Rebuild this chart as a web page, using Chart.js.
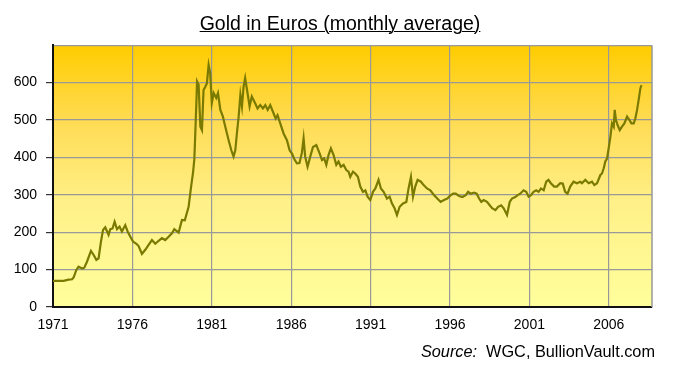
<!DOCTYPE html>
<html>
<head>
<meta charset="utf-8">
<script src="https://cdn.jsdelivr.net/npm/chart.js@4.4.1/dist/chart.umd.min.js"></script>
<style>
  body { margin: 0; background: #fff; }
  #wrap { position: relative; width: 680px; height: 375px; }
  #title {
    position: absolute; left: 0; top: 12px; width: 680px; text-align: center;
    font-family: 'Liberation Sans', Arial, sans-serif; font-size: 19.5px; color: #000;
    text-decoration: underline; text-decoration-thickness: 1px; line-height: 23px;
  }
  #source {
    position: absolute; right: 25px; top: 342px;
    font-family: 'Liberation Sans', Arial, sans-serif; font-size: 16.3px; color: #000;
    white-space: pre;
  }
</style>
</head>
<body>
<div id="wrap">
  <canvas id="gold-chart" width="680" height="375"></canvas>
  <div id="title">Gold in Euros (monthly average)</div>
  <div id="source"><i>Source:</i>  WGC, BullionVault.com</div>
</div>
<script>
// decimal year of each reading
const years = [
  1971.00, 1971.35, 1971.67, 1971.98, 1972.20, 1972.30, 1972.47, 1972.61, 1972.83, 1972.97,
  1973.14, 1973.39, 1973.56, 1973.73, 1973.87, 1974.02, 1974.15, 1974.29, 1974.50, 1974.61,
  1974.75, 1974.88, 1975.03, 1975.19, 1975.34, 1975.55, 1975.70, 1975.87, 1976.04, 1976.25,
  1976.39, 1976.60, 1976.81, 1977.02, 1977.23, 1977.44, 1977.65, 1977.86, 1978.07, 1978.28,
  1978.49, 1978.64, 1978.91, 1979.12, 1979.30, 1979.54, 1979.69, 1979.82, 1979.90, 1979.96,
  1980.04, 1980.07, 1980.17, 1980.28, 1980.38, 1980.48, 1980.59, 1980.69, 1980.80, 1980.90,
  1981.00, 1981.12, 1981.28, 1981.39, 1981.54, 1981.70, 1981.85, 1982.06, 1982.23, 1982.37,
  1982.48, 1982.58, 1982.69, 1982.80, 1982.90, 1983.00, 1983.10, 1983.25, 1983.38, 1983.52,
  1983.73, 1983.88, 1984.05, 1984.22, 1984.37, 1984.52, 1984.68, 1984.85, 1985.02, 1985.14,
  1985.31, 1985.52, 1985.73, 1985.90, 1986.05, 1986.20, 1986.36, 1986.52, 1986.67, 1986.78,
  1986.88, 1987.03, 1987.20, 1987.37, 1987.58, 1987.79, 1987.94, 1988.08, 1988.21, 1988.35,
  1988.50, 1988.67, 1988.84, 1988.98, 1989.13, 1989.30, 1989.47, 1989.61, 1989.72, 1989.89,
  1990.03, 1990.20, 1990.35, 1990.52, 1990.67, 1990.81, 1990.98, 1991.15, 1991.30, 1991.50,
  1991.65, 1991.82, 1992.03, 1992.20, 1992.34, 1992.51, 1992.66, 1992.83, 1993.04, 1993.25,
  1993.39, 1993.54, 1993.67, 1993.81, 1993.96, 1994.17, 1994.34, 1994.55, 1994.76, 1995.00,
  1995.20, 1995.41, 1995.62, 1995.83, 1996.04, 1996.20, 1996.36, 1996.57, 1996.78, 1996.99,
  1997.14, 1997.30, 1997.51, 1997.68, 1997.83, 1997.97, 1998.12, 1998.33, 1998.50, 1998.65,
  1998.86, 1999.03, 1999.22, 1999.38, 1999.59, 1999.76, 1999.90, 2000.11, 2000.26, 2000.42,
  2000.63, 2000.80, 2000.95, 2001.10, 2001.26, 2001.43, 2001.58, 2001.73, 2001.90, 2002.06,
  2002.20, 2002.35, 2002.56, 2002.73, 2002.94, 2003.10, 2003.25, 2003.40, 2003.57, 2003.78,
  2003.99, 2004.20, 2004.31, 2004.52, 2004.73, 2004.94, 2005.09, 2005.26, 2005.47, 2005.57,
  2005.68, 2005.78, 2005.89, 2005.99, 2006.10, 2006.20, 2006.31, 2006.37, 2006.45, 2006.56,
  2006.69, 2006.83, 2006.98, 2007.15, 2007.30, 2007.42, 2007.57, 2007.67, 2007.78, 2007.88,
  2007.99, 2008.06
];

// euros per ounce, monthly average
const prices = [
  70, 70, 70, 73, 74, 79, 99, 108, 103, 105,
  121, 150, 139, 126, 130, 175, 206, 213, 193, 208,
  210, 228, 208, 215, 202, 219, 202, 188, 175, 169,
  163, 142, 153, 166, 179, 169, 177, 184, 179, 188,
  197, 208, 199, 233, 232, 268, 320, 360, 395, 464,
  560, 603, 594, 482, 473, 580, 589, 598, 647, 625,
  545, 572, 559, 572, 527, 509, 482, 446, 419, 402,
  419, 464, 509, 567, 536, 589, 612, 572, 536, 563,
  545, 531, 540, 531, 540, 527, 540, 522, 504, 513,
  491, 464, 446, 419, 410, 395, 384, 385, 412, 451,
  402, 375, 402, 428, 433, 411, 393, 397, 380, 406,
  424, 406, 380, 389, 375, 380, 366, 362, 348, 362,
  357, 348, 322, 308, 312, 295, 286, 308, 317, 340,
  317, 308, 290, 295, 277, 264, 246, 268, 277, 281,
  317, 348, 295, 322, 340, 335, 326, 317, 312, 299,
  290, 281, 286, 290, 299, 303, 303, 297, 294, 299,
  308, 303, 306, 303, 290, 281, 286, 281, 272, 264,
  259, 268, 272, 264, 246, 281, 290, 294, 299, 303,
  312, 308, 295, 299, 308, 312, 308, 317, 312, 335,
  340, 331, 322, 322, 331, 330, 308, 303, 322, 335,
  331, 335, 331, 340, 331, 335, 326, 331, 353, 357,
  371, 389, 397, 424, 455, 491, 482, 527, 500, 486,
  473, 482, 491, 509, 500, 491, 491, 504, 527, 554,
  585, 593
];

const yearTicks = [1971, 1976, 1981, 1986, 1991, 1996, 2001, 2006];
const priceTicks = [0, 100, 200, 300, 400, 500, 600, 700];

const FONT = "'Liberation Sans', Arial, sans-serif";

const plotBackground = {
  id: 'plotBackground',
  beforeDraw(chart) {
    const { ctx, chartArea } = chart;
    const g = ctx.createLinearGradient(0, chartArea.top, 0, chartArea.bottom);
    g.addColorStop(0, '#ffcc00');
    g.addColorStop(0.3, '#ffdc55');
    g.addColorStop(0.6, '#fff088');
    g.addColorStop(1, '#ffff9c');
    ctx.save();
    ctx.fillStyle = g;
    ctx.fillRect(chartArea.left, chartArea.top, chartArea.right - chartArea.left, chartArea.bottom - chartArea.top);
    ctx.restore();
  },
  beforeDatasetsDraw(chart) {
    // grey frame on the right side
    const { ctx, chartArea } = chart;
    ctx.save();
    ctx.strokeStyle = '#999';
    ctx.lineWidth = 1.5;
    ctx.beginPath();
    ctx.moveTo(chartArea.right, chartArea.top);
    ctx.lineTo(chartArea.right, chartArea.bottom);
    ctx.stroke();
    ctx.restore();
  }
};

new Chart(document.getElementById('gold-chart'), {
  type: 'line',
  data: {
    datasets: [{
      data: years.map((y, i) => ({ x: y, y: prices[i] })),
      borderColor: '#7a7a00',
      borderWidth: 2.2,
      pointRadius: 0,
      tension: 0,
      fill: false
    }]
  },
  options: {
    responsive: false,
    animation: false,
    devicePixelRatio: 1,
    layout: { padding: { left: 0, right: 28, top: 45.2, bottom: 0 } },
    plugins: {
      legend: { display: false },
      tooltip: { enabled: false },
      title: { display: false }
    },
    scales: {
      x: {
        type: 'linear',
        min: 1971,
        max: 2008.72,
        afterBuildTicks: (scale) => { scale.ticks = yearTicks.map(v => ({ value: v })); },
        afterFit: (scale) => { scale.height = 68; },
        grid: { color: '#999', lineWidth: 1.2, drawTicks: false },
        border: { color: '#111', width: 2 },
        ticks: {
          color: '#000',
          font: { family: FONT, size: 14 },
          padding: 10,
          maxRotation: 0,
          autoSkip: false,
          callback: (v) => String(v)
        }
      },
      y: {
        min: 0,
        max: 700,
        afterBuildTicks: (scale) => { scale.ticks = priceTicks.map(v => ({ value: v })); },
        afterFit: (scale) => { scale.width = 53; },
        grid: {
          color: '#999',
          lineWidth: 1.2,
          tickLength: 7,
          tickColor: (c) => (c.tick && c.tick.value === 700 ? 'rgba(0,0,0,0)' : '#333')
        },
        border: { color: '#111', width: 2 },
        ticks: {
          color: '#000',
          font: { family: FONT, size: 14 },
          padding: 9,
          callback: (v) => (v === 700 ? '' : String(v))
        }
      }
    }
  },
  plugins: [plotBackground]
});
</script>
</body>
</html>
